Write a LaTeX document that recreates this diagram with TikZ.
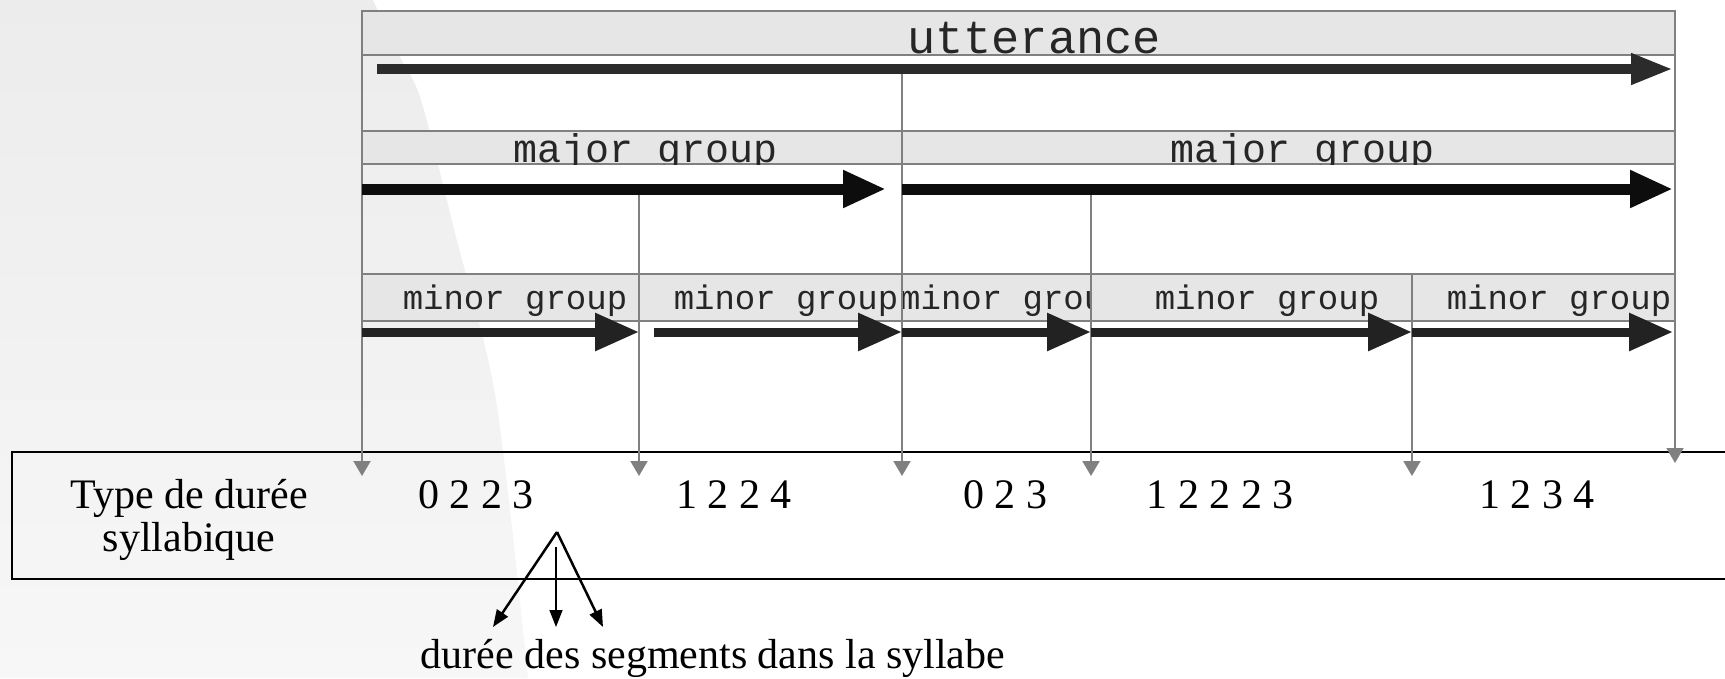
\documentclass[tikz,border=0pt]{standalone}
\usepackage{fontspec}
\setmainfont{Liberation Serif}
\newfontfamily\monofont{Liberation Mono}
\usetikzlibrary{arrows.meta}
\definecolor{hdrfill}{HTML}{E6E6E6}
\definecolor{gline}{HTML}{808080}
\definecolor{bgA}{HTML}{ECECEC}
\definecolor{bgB}{HTML}{F7F7F7}
\definecolor{arrU}{HTML}{2B2B2B}
\definecolor{arrM}{HTML}{0D0D0D}
\definecolor{arrN}{HTML}{222222}
\definecolor{hdrtext}{HTML}{262626}
\tikzset{
  hdr/.style={fill=hdrfill, draw=gline, line width=2.5pt},
  gconn/.style={draw=gline, line width=2pt, -{Triangle[length=15pt,width=17pt]}},
  uarrow/.style={draw=arrU, line width=10pt, -{Triangle[length=42pt,width=29pt]}},
  marrow/.style={draw=arrM, line width=11pt, -{Triangle[length=43pt,width=35pt]}},
  narrow/.style={draw=arrN, line width=9pt, -{Triangle[length=44pt,width=36pt]}},
  utext/.style={anchor=base, text=hdrtext, inner sep=0pt, font=\monofont\fontsize{47}{50}\selectfont},
  mtext/.style={anchor=base, text=hdrtext, inner sep=0pt, font=\monofont\fontsize{40}{44}\selectfont},
  ntext/.style={anchor=base, text=hdrtext, inner sep=0pt, font=\monofont\fontsize{34}{38}\selectfont},
  stext/.style={anchor=base, inner sep=0pt, font=\fontsize{42}{46}\selectfont},
  treearrow/.style={draw=black, line width=2.5pt, -{Triangle[length=17pt,width=13pt]}},
}
\begin{document}
\begin{tikzpicture}[x=1pt,y=-1pt]
\useasboundingbox (0,0) rectangle (1725,678);
% background
\shade[top color=bgA, bottom color=bgB]
  (0,0) -- plot[smooth] coordinates {(373,0) (400,57) (421,100) (455,233) (496,400) (528,678)} -- (0,678) -- cycle;

% bottom box
\draw[black, line width=2.5pt] (1735,452) -- (12,452) -- (12,579) -- (1735,579);

% headers
\draw[hdr] (362,11) rectangle (1675,55);
\draw[hdr] (362,131) rectangle (902,164);
\draw[hdr] (902,131) rectangle (1675,164);
\draw[hdr] (362,274) rectangle (639,321);
\draw[hdr] (639,274) rectangle (902,321);
\draw[hdr] (902,274) rectangle (1091,321);
\draw[hdr] (1091,274) rectangle (1412,321);
\draw[hdr] (1412,274) rectangle (1675,321);

% header texts
\node[utext] (utt) at (1034,53) {utterance};
\begin{scope}
  \clip (362,131) rectangle (902,164);
  \node[mtext] (maj1) at (646,162) {major group};
\end{scope}
\begin{scope}
  \clip (902,131) rectangle (1675,164);
  \node[mtext] (maj2) at (1303,162) {major group};
\end{scope}
\node[ntext] (min1) at (515,309) {minor group};
\node[ntext] (min2) at (786,309) {minor group};
\begin{scope}
  \clip (902,274) rectangle (1091,321);
  \node[ntext, anchor=base west] (min3) at (900,309) {minor group};
\end{scope}
\node[ntext] (min4) at (1267,309) {minor group};
\node[ntext] (min5) at (1559,309) {minor group};

% coordinates
\coordinate (fL) at (362,11);   \coordinate (fLb) at (362,476);
\coordinate (fR) at (1675,11);  \coordinate (fRb) at (1675,463);
\coordinate (vA) at (902,69);   \coordinate (vAb) at (902,476);
\coordinate (vB) at (639,189);  \coordinate (vBb) at (639,476);
\coordinate (vC) at (1091,189); \coordinate (vCb) at (1091,476);
\coordinate (vD) at (1412,274); \coordinate (vDb) at (1412,476);

% gray vertical connectors
\draw[gconn] (fL) -- (fLb);
\draw[gconn] (fR) -- (fRb);
\draw[gconn] (vA) -- (vAb);
\draw[gconn] (vB) -- (vBb);
\draw[gconn] (vC) -- (vCb);
\draw[gconn] (vD) -- (vDb);

% utterance arrow
\coordinate (uS) at (377,69); \coordinate (uE) at (1673,69);
\draw[uarrow] (uS) -- (uE);
% major arrows
\coordinate (m1S) at (362,189); \coordinate (m1E) at (886,189);
\coordinate (m2S) at (902,189); \coordinate (m2E) at (1673,189);
\draw[marrow] (m1S) -- (m1E);
\draw[marrow] (m2S) -- (m2E);
% minor arrows
\coordinate (n1S) at (362,332);  \coordinate (n1E) at (639,332);
\coordinate (n2S) at (654,332);  \coordinate (n2E) at (902,332);
\coordinate (n3S) at (902,332);  \coordinate (n3E) at (1091,332);
\coordinate (n4S) at (1091,332); \coordinate (n4E) at (1412,332);
\coordinate (n5S) at (1412,332); \coordinate (n5E) at (1673,332);
\draw[narrow] (n1S) -- (n1E);
\draw[narrow] (n2S) -- (n2E);
\draw[narrow] (n3S) -- (n3E);
\draw[narrow] (n4S) -- (n4E);
\draw[narrow] (n5S) -- (n5E);

% bottom texts
\node[stext] (type1) at (189,508) {Type de durée};
\node[stext] (type2) at (189,551) {syllabique};
\node[stext] (d1) at (476,508) {0 2 2 3};
\node[stext] (d2) at (734,508) {1 2 2 4};
\node[stext] (d3) at (1005,508) {0 2 3};
\node[stext] (d4) at (1220,508) {1 2 2 2 3};
\node[stext] (d5) at (1537,508) {1 2 3 4};
\node[stext] (seg) at (713,668) {durée des segments dans la syllabe};

% tree
\coordinate (apex) at (557,532);
\coordinate (apexm) at (556,547);
\coordinate (tL) at (493,627);
\coordinate (tM) at (556,627);
\coordinate (tR) at (603,627);
\draw[treearrow] (apex) -- (tL);
\draw[treearrow, line width=1.5pt] (apexm) -- (tM);
\draw[treearrow] (apex) -- (tR);
\end{tikzpicture}
\end{document}
